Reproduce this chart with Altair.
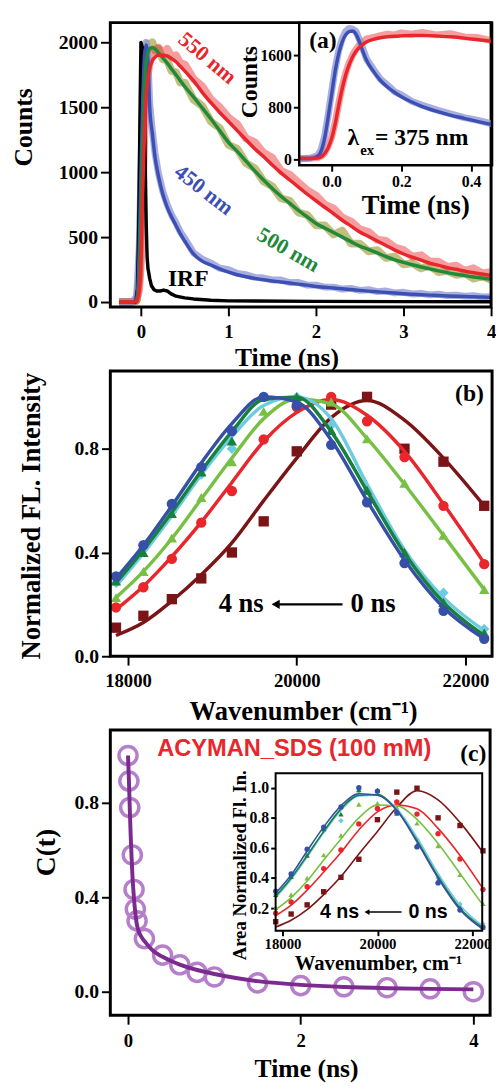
import altair as alt
import pandas as pd

SERIF = "Liberation Serif"
SANS = "Liberation Sans"

# ---------------- colours ----------------
RED = "#e8262b"
GREEN = "#1f8a3b"
BLUE = "#3c50b4"
OLIVE = "#b3ae5c"
LBLUE = "#8c93d6"
BROWN = "#7b1416"
LGREEN = "#77c043"
CYAN = "#6ccbe0"
DGREEN = "#17803d"
BLUE2 = "#3650a8"
PURPLE = "#7b2a8e"
LPURPLE = "#b57fca"

# ---------------- panel (a): decays ----------------
t_decay = [-0.25, -0.1, -0.05, -0.02, 0.0, 0.02, 0.04, 0.06, 0.08, 0.1, 0.13, 0.16, 0.2, 0.25,
           0.3, 0.35, 0.4, 0.45, 0.5, 0.6, 0.7, 0.8, 0.9, 1.0, 1.1, 1.2, 1.3, 1.4, 1.5, 1.6, 1.7,
           1.8, 1.9, 2.0, 2.1, 2.2, 2.3, 2.4, 2.5, 2.6, 2.7, 2.8, 2.9, 3.0, 3.1, 3.2, 3.3, 3.4,
           3.5, 3.6, 3.7, 3.8, 3.9, 4.0]
red_fit = [0, 0, 5, 80, 300, 850, 1300, 1580, 1720, 1800, 1860, 1885, 1900, 1900, 1895, 1875, 1850,
           1815, 1780, 1705, 1615, 1535, 1460, 1390, 1320, 1250, 1180, 1120, 1055, 995, 940, 885,
           830, 780, 730, 680, 630, 585, 540, 505, 470, 435, 400, 370, 345, 322, 300, 282, 265,
           252, 238, 226, 215, 205]
red_dat = [0, 0, 10, 100, 320, 880, 1320, 1610, 1760, 1850, 1890, 1940, 1960, 1920, 1950, 1890, 1900,
           1840, 1830, 1720, 1660, 1560, 1500, 1420, 1370, 1260, 1230, 1150, 1110, 1010, 980, 920,
           860, 820, 750, 720, 650, 620, 560, 540, 480, 470, 420, 400, 350, 360, 310, 310, 270,
           280, 240, 260, 220, 230]
green_fit = [0, 0, 5, 150, 700, 1250, 1650, 1850, 1920, 1950, 1960, 1950, 1920, 1880, 1840, 1795,
             1750, 1705, 1660, 1580, 1495, 1410, 1320, 1230, 1160, 1085, 1010, 940, 875, 815, 760,
             705, 655, 605, 570, 535, 500, 465, 430, 405, 378, 350, 325, 305, 287, 270, 255, 240,
             226, 214, 203, 193, 184, 175]
green_dat = [0, 0, 10, 180, 720, 1290, 1680, 1900, 1990, 1960, 2000, 1940, 1950, 1870, 1860, 1780,
             1770, 1690, 1690, 1560, 1510, 1390, 1340, 1210, 1180, 1070, 1030, 930, 890, 800, 780,
             690, 670, 590, 590, 520, 550, 450, 450, 390, 400, 340, 350, 290, 300, 260, 280, 230,
             240, 210, 220, 180, 200, 170]
blue_fit = [0, 0, 30, 400, 1000, 1550, 1900, 1980, 1850, 1500, 1300, 1120, 970, 830, 730, 655, 590,
            525, 470, 370, 315, 285, 255, 230, 210, 195, 182, 171, 162, 154, 146, 138, 130, 120,
            114, 108, 102, 96, 90, 84, 79, 74, 69, 64, 60, 56, 53, 50, 47, 44, 42, 40, 38, 36]
blue_dat = [0, 0, 40, 420, 1030, 1580, 1930, 2000, 1880, 1530, 1320, 1150, 990, 850, 750, 670, 610,
            540, 490, 380, 330, 300, 260, 250, 220, 210, 190, 185, 170, 170, 150, 150, 130, 130,
            115, 115, 100, 105, 90, 95, 80, 85, 70, 75, 62, 66, 55, 60, 50, 52, 45, 48, 40, 42]
t_irf = [-0.25, -0.06, -0.04, -0.025, -0.01, 0.0, 0.02, 0.035, 0.05, 0.06, 0.07, 0.08, 0.1, 0.12,
         0.15, 0.18, 0.22, 0.26, 0.3, 0.34, 0.4, 0.5, 0.6, 0.8, 1.0, 2.0, 3.0, 4.0]
irf = [0, 0, 100, 600, 1500, 2000, 1950, 1700, 1000, 600, 350, 260, 180, 125, 95, 85, 85, 92, 85,
       65, 45, 32, 24, 14, 9, 5, 3, 2]

# inset (a)
t_in = [-0.09, -0.06, -0.04, -0.03, -0.02, -0.01, 0.0, 0.01, 0.02, 0.03, 0.04, 0.05, 0.06, 0.07,
        0.08, 0.09, 0.1, 0.12, 0.14, 0.16, 0.18, 0.2, 0.23, 0.26, 0.3, 0.34, 0.38, 0.42, 0.46]
in_blue_fit = [15, 15, 50, 130, 330, 650, 1000, 1350, 1620, 1800, 1910, 1960, 1970, 1920, 1800,
               1650, 1520, 1350, 1210, 1110, 1030, 960, 880, 810, 740, 680, 630, 580, 535]
in_blue_dat = [10, 20, 60, 150, 360, 680, 1040, 1390, 1660, 1850, 1960, 2010, 2000, 1960, 1830,
               1690, 1540, 1380, 1230, 1140, 1040, 990, 890, 830, 760, 700, 640, 600, 545]
in_red_fit = [15, 15, 20, 40, 90, 180, 320, 540, 820, 1080, 1290, 1450, 1570, 1660, 1720, 1765,
              1800, 1840, 1865, 1880, 1890, 1895, 1900, 1900, 1895, 1880, 1860, 1835, 1810]
in_red_dat = [10, 20, 25, 50, 100, 200, 340, 560, 850, 1110, 1320, 1480, 1600, 1690, 1760, 1800,
              1850, 1870, 1900, 1920, 1910, 1940, 1920, 1950, 1910, 1930, 1880, 1870, 1820]

# ---------------- panel (b): normalized spectra ----------------
wn = [17857, 18182, 18519, 18868, 19231, 19608, 20000, 20408, 20833, 21277, 21739, 22222]
b_pts = [
    [0.11, 0.156, 0.22, 0.30, 0.40, 0.52, 0.79, 0.97, 1.0, 0.80, 0.75, 0.58],
    [0.188, 0.266, 0.375, 0.515, 0.637, 0.836, 0.96, 1.0, 0.906, 0.768, 0.58, 0.355],
    [0.226, 0.327, 0.456, 0.612, 0.75, 0.944, 1.0, 0.98, 0.838, 0.667, 0.466, 0.257],
    [0.283, 0.416, 0.555, 0.70, 0.80, 1.0, 1.0, 0.89, 0.64, 0.384, 0.245, 0.105],
    [0.29, 0.40, 0.55, 0.71, 0.83, 1.0, 1.0, 0.87, 0.64, 0.40, 0.207, 0.09],
    [0.308, 0.428, 0.587, 0.729, 0.868, 1.0, 0.967, 0.815, 0.593, 0.359, 0.175, 0.067],
]
b_fit = [
    [0.08, 0.13, 0.213, 0.314, 0.437, 0.60, 0.764, 0.92, 0.986, 0.91, 0.764, 0.58],
    [0.18, 0.27, 0.384, 0.517, 0.67, 0.828, 0.94, 0.99, 0.929, 0.79, 0.587, 0.359],
    [0.226, 0.327, 0.454, 0.606, 0.764, 0.916, 0.992, 0.973, 0.84, 0.663, 0.466, 0.257],
    [0.27, 0.397, 0.542, 0.70, 0.847, 0.967, 1.0, 0.916, 0.663, 0.41, 0.226, 0.099],
    [0.283, 0.41, 0.555, 0.714, 0.866, 0.99, 0.999, 0.866, 0.637, 0.397, 0.207, 0.08],
    [0.30, 0.428, 0.58, 0.745, 0.897, 1.0, 0.98, 0.834, 0.60, 0.371, 0.188, 0.067],
]
# inset (c): area-normalized spectra
c_pts = [
    [0.11, 0.161, 0.222, 0.309, 0.405, 0.525, 0.788, 0.971, 0.997, 0.80, 0.749, 0.581],
    [0.167, 0.241, 0.342, 0.463, 0.586, 0.76, 0.862, 0.906, 0.825, 0.695, 0.527, 0.324],
    [0.204, 0.29, 0.40, 0.553, 0.684, 0.89, 0.897, 0.869, 0.764, 0.614, 0.422, 0.23],
    [0.29, 0.411, 0.553, 0.716, 0.78, 0.978, 0.967, 0.836, 0.657, 0.401, 0.227, 0.095],
    [0.29, 0.41, 0.55, 0.727, 0.825, 0.985, 0.985, 0.83, 0.62, 0.383, 0.204, 0.073],
    [0.313, 0.427, 0.592, 0.738, 0.873, 1.0, 0.978, 0.836, 0.607, 0.368, 0.187, 0.073],
]
c_fit = [
    [0.075, 0.12, 0.19, 0.29, 0.41, 0.56, 0.71, 0.87, 0.98, 0.92, 0.77, 0.57],
    [0.15, 0.22, 0.32, 0.44, 0.57, 0.72, 0.84, 0.885, 0.86, 0.73, 0.55, 0.33],
    [0.19, 0.27, 0.38, 0.52, 0.66, 0.80, 0.885, 0.88, 0.79, 0.63, 0.43, 0.22],
    [0.27, 0.39, 0.54, 0.70, 0.85, 0.945, 0.95, 0.86, 0.67, 0.43, 0.22, 0.08],
    [0.28, 0.40, 0.55, 0.71, 0.86, 0.95, 0.955, 0.85, 0.65, 0.41, 0.20, 0.07],
    [0.30, 0.42, 0.58, 0.74, 0.88, 0.96, 0.95, 0.85, 0.64, 0.40, 0.19, 0.06],
]
spec_colors = [BROWN, RED, LGREEN, CYAN, DGREEN, BLUE2]
spec_shapes = ["square", "circle", "triangle-up", "diamond", "triangle-up", "circle"]

# ---------------- panel (c): C(t) ----------------
t_ct = [0, 0.01, 0.02, 0.05, 0.07, 0.085, 0.105, 0.19, 0.4, 0.6, 0.8, 1.0, 1.5, 2.0, 2.5, 3.0, 3.5, 4.0]
ct = [1.0, 0.892, 0.78, 0.579, 0.433, 0.35, 0.30, 0.225, 0.155, 0.114, 0.082, 0.0625, 0.0375,
      0.026, 0.021, 0.017, 0.0125, 0.0]
t_ctfit = [0, 0.01, 0.02, 0.03, 0.04, 0.05, 0.06, 0.07, 0.08, 0.1, 0.12, 0.15, 0.2, 0.3, 0.4, 0.5,
           0.6, 0.8, 1.0, 1.25, 1.5, 2.0, 2.5, 3.0, 3.5, 4.0]
ct_fit = [1.0, 0.90, 0.78, 0.67, 0.58, 0.50, 0.44, 0.39, 0.35, 0.29, 0.26, 0.235, 0.21, 0.17, 0.148,
          0.13, 0.115, 0.092, 0.075, 0.058, 0.045, 0.029, 0.02, 0.015, 0.012, 0.01]

# ---------------- layout ----------------
W, H = 388, 1009


def sc(dom, rng):
    return alt.Scale(domain=dom, range=rng, nice=False, zero=False)


def ax(orient, offset, values, fmt, title, tx, ty, lsize, tsize, tick, pad, tw=2):
    return alt.Axis(orient=orient, offset=offset, values=values, format=fmt, title=title,
                    titleX=tx, titleY=ty, labelFontSize=lsize, titleFontSize=tsize,
                    tickSize=tick, labelPadding=pad, tickWidth=tw, grid=False, domain=False,
                    tickColor="black", labelColor="black", titleColor="black",
                    labelFont=SERIF, titleFont=SERIF, labelFontWeight="bold",
                    titleFontWeight="bold", labelFlush=False, labelOverlap=False,
                    titleAlign="center", titleBaseline="middle",
                    titleAngle=(270 if orient == "left" else 0))


def df(x, y):
    return pd.DataFrame({"x": x, "y": y})


def frame(X, Y, xd, yd, sw):
    d = pd.DataFrame({"x": [xd[0]], "x2": [xd[1]], "y": [yd[0]], "y2": [yd[1]]})
    return alt.Chart(d).mark_rect(fillOpacity=0, stroke="black", strokeWidth=sw).encode(
        x=X, x2=alt.X2("x2"), y=Y, y2=alt.Y2("y2"))


def label(X, Y, x, y, text, size, color="black", angle=0, font=SERIF, align="center",
          baseline="middle"):
    return alt.Chart(df([x], [y])).mark_text(
        text=text, fontSize=size, font=font, fontWeight="bold", color=color, angle=angle,
        align=align, baseline=baseline).encode(x=X, y=Y)


def line(X, Y, x, y, color, width, opacity=1.0, interp="linear"):
    return alt.Chart(df(x, y)).mark_line(color=color, strokeWidth=width, opacity=opacity,
                                         interpolate=interp, strokeJoin="round").encode(x=X, y=Y)


def points(X, Y, x, y, color, shape, size):
    return alt.Chart(df(x, y)).mark_point(shape=shape, filled=True, size=size, color=color,
                                          opacity=1).encode(x=X, y=Y)


# ---- panel (a) main ----
xa_dom, ya_dom = [-0.35, 4.0], [-38, 2152]
X_a = alt.X("x:Q", scale=sc(xa_dom, [0, 387]),
            axis=ax("bottom", 289 - H, [0, 1, 2, 3, 4], "d", "Time (ns)", 179, 51, 19, 26, 9, 7))
Y_a = alt.Y("y:Q", scale=sc(ya_dom, [289, 0]),
            axis=ax("left", 0, [0, 500, 1000, 1500, 2000], "d", "Counts", -88, 106, 20, 26, 10, 3))

panel_a = alt.layer(
    line(X_a, Y_a, t_decay, green_dat, OLIVE, 8, 0.8),
    line(X_a, Y_a, t_decay, red_dat, RED, 8, 0.45),
    line(X_a, Y_a, t_decay, blue_dat, LBLUE, 7, 0.75),
    line(X_a, Y_a, t_irf, irf, "black", 3.5),
    line(X_a, Y_a, t_decay, blue_fit, BLUE, 3.5, 1, "monotone"),
    line(X_a, Y_a, t_decay, green_fit, GREEN, 3.5, 1, "monotone"),
    line(X_a, Y_a, t_decay, red_fit, RED, 3.5, 1, "monotone"),
    label(X_a, Y_a, 0.76, 1880, "550 nm", 22, RED, 40),
    label(X_a, Y_a, 0.72, 864, "450 nm", 22, BLUE, 38),
    label(X_a, Y_a, 1.685, 402, "500 nm", 22, GREEN, 30),
    label(X_a, Y_a, 0.54, 174, "IRF", 24),
    frame(X_a, Y_a, xa_dom, ya_dom, 3),
)

# ---- inset (a) ----
xia_dom, yia_dom = [-0.093, 0.46], [-90, 2098]
X_ia = alt.X("x:Q", scale=sc(xia_dom, [192, 388]),
             axis=ax("bottom", 145 - H, [0.0, 0.2, 0.4], ".1f", "Time (ns)", 310, 41, 16, 27, 6, 3))
Y_ia = alt.Y("y:Q", scale=sc(yia_dom, [145, 0]),
             axis=ax("left", -192, [0, 800, 1600], "d", "Counts", -50, 60, 16, 24, 6, 2))
inset_a = alt.layer(
    line(X_ia, Y_ia, t_in, in_red_dat, RED, 7, 0.45),
    line(X_ia, Y_ia, t_in, in_blue_dat, LBLUE, 7, 0.75),
    line(X_ia, Y_ia, t_in, in_blue_fit, BLUE, 3.5, 1, "monotone"),
    line(X_ia, Y_ia, t_in, in_red_fit, RED, 3.5, 1, "monotone"),
    label(X_ia, Y_ia, -0.025, 1811, "(a)", 24),
    label(X_ia, Y_ia, 0.062, 226, "λ", 24, baseline="alphabetic"),
    label(X_ia, Y_ia, 0.082, 75, "ex", 15, align="left", baseline="alphabetic"),
    label(X_ia, Y_ia, 0.124, 226, "= 375 nm", 24, align="left", baseline="alphabetic"),
    frame(X_ia, Y_ia, xia_dom, yia_dom, 2.5),
)

# ---- panel (b) ----
xb_dom, yb_dom = [17790, 22315], [0, 1.1]
X_b = alt.X("x:Q", scale=sc(xb_dom, [0, 388]),
            axis=ax("bottom", 644 - H, [18000, 20000, 22000], "d", "Wavenumber (cm⁻¹)",
                    196, 56, 19, 27, 9, 7))
Y_b = alt.Y("y:Q", scale=sc(yb_dom, [644, 354]),
            axis=ax("left", 0, [0.0, 0.4, 0.8], ".1f", "Normalized FL. Intensity", -80, 501,
                    20, 27, 9, 3))

b_layers = []
for i in range(6):
    b_layers.append(line(X_b, Y_b, wn, b_fit[i], spec_colors[i], 3.5, 1, "monotone"))
    b_layers.append(points(X_b, Y_b, wn, b_pts[i], spec_colors[i], spec_shapes[i], 110))
arrow_b = pd.DataFrame({"x": [19760], "x2": [20542], "y": [0.2]})
panel_b = alt.layer(
    *b_layers,
    alt.Chart(arrow_b).mark_rule(color="black", strokeWidth=2.5).encode(
        x=X_b, x2=alt.X2("x2"), y=Y_b),
    points(X_b, Y_b, [19750], [0.2], "black", "triangle-left", 90),
    label(X_b, Y_b, 19341, 0.2, "4 ns", 27),
    label(X_b, Y_b, 20904, 0.2, "0 ns", 27),
    label(X_b, Y_b, 22047, 1.009, "(b)", 24),
    frame(X_b, Y_b, xb_dom, yb_dom, 3),
)

# ---- panel (c) ----
xc_dom, yc_dom = [-0.205, 4.194], [-0.1, 1.108]
X_c = alt.X("x:Q", scale=sc(xc_dom, [0, 386]),
            axis=ax("bottom", 0, [0, 2, 4], "d", "Time (ns)", 199, 54, 19, 26, 9, 8))
Y_c = alt.Y("y:Q", scale=sc(yc_dom, [1009, 719]),
            axis=ax("left", 0, [0.0, 0.4, 0.8], ".1f", "C(t)", -65, 843, 20, 28, 9, 3))
panel_c = alt.layer(
    alt.Chart(df(t_ct, ct)).mark_point(shape="circle", filled=False, size=340, strokeWidth=3.5,
                                       color=LPURPLE, opacity=1).encode(x=X_c, y=Y_c),
    line(X_c, Y_c, t_ctfit, ct_fit, PURPLE, 4, 1, "monotone"),
    label(X_c, Y_c, 1.926, 1.029, "ACYMAN_SDS (100 mM)", 24, RED, font=SANS),
    label(X_c, Y_c, 4.0, 1.008, "(c)", 24),
    frame(X_c, Y_c, xc_dom, yc_dom, 3),
)

# ---- inset (c) ----
xic_dom, yic_dom = [17855, 22207], [0.05, 1.096]
X_ic = alt.X("x:Q", scale=sc(xic_dom, [168, 378]),
             axis=ax("bottom", -86, [18000, 20000, 22000], "d", "Wavenumber, cm⁻¹", 272, 33,
                     15, 21, 5, 1))
Y_ic = alt.Y("y:Q", scale=sc(yic_dom, [923, 763]),
             axis=ax("left", -168, [0.2, 0.4, 0.6, 0.8, 1.0], ".1f", "Area Normalized Fl. In.",
                     -37, 856, 16, 19, 5, 2))
c_layers = []
for i in range(6):
    c_layers.append(line(X_ic, Y_ic, wn, c_fit[i], spec_colors[i], 1.6, 1, "monotone"))
    c_layers.append(points(X_ic, Y_ic, wn, c_pts[i], spec_colors[i], spec_shapes[i], 30))
arrow_c = pd.DataFrame({"x": [19790], "x2": [20508], "y": [0.174]})
inset_c = alt.layer(
    *c_layers,
    alt.Chart(arrow_c).mark_rule(color="black", strokeWidth=1.5).encode(
        x=X_ic, x2=alt.X2("x2"), y=Y_ic),
    points(X_ic, Y_ic, [19780], [0.174], "black", "triangle-left", 35),
    label(X_ic, Y_ic, 19202, 0.174, "4 ns", 20, font=SANS),
    label(X_ic, Y_ic, 21067, 0.174, "0 ns", 20, font=SANS),
    frame(X_ic, Y_ic, xic_dom, yic_dom, 2),
)

chart = alt.layer(panel_a, inset_a, panel_b, panel_c, inset_c).resolve_scale(
    x="independent", y="independent"
).properties(
    width=W, height=H,
    autosize=alt.AutoSizeParams(type="none"),
    padding={"left": 104, "top": 6, "right": 4, "bottom": 66},
).configure_view(stroke="transparent")

chart.save("out.html", embed_options={"renderer": "svg", "actions": False})
